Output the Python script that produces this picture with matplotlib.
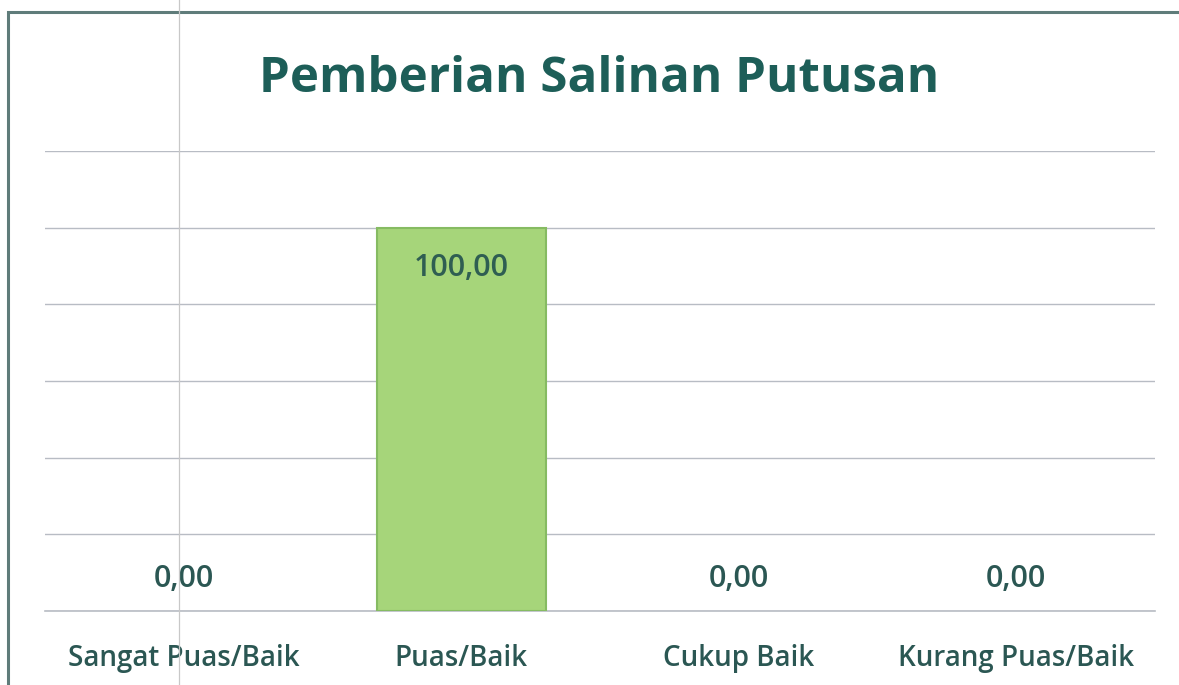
import matplotlib.pyplot as plt
from matplotlib.patches import Rectangle
from matplotlib.lines import Line2D

title = 'Pemberian Salinan Putusan'
categories = ['Sangat Puas/Baik', 'Puas/Baik', 'Cukup Baik', 'Kurang Puas/Baik']
values = [0.00, 100.00, 0.00, 0.00]
value_labels = ['0,00', '100,00', '0,00', '0,00']

TEAL = '#1d5e58'
LABEL = '#2b5753'
FONT = ['Open Sans', 'DejaVu Sans']


def main():
    plt.rcParams['font.family'] = FONT
    fig = plt.figure(figsize=(11.79, 6.85), dpi=100)
    fig.patch.set_facecolor('white')

    # chart frame from the scan
    fig.add_artist(Rectangle((8 / 1179, -0.01), 1.2, 1 - 12 / 685 + 0.01,
                             transform=fig.transFigure, fill=False,
                             edgecolor='#5f7c7a', linewidth=2.2))
    # fold line in the scan
    fig.add_artist(Line2D([179 / 1179, 179 / 1179], [0, 1], transform=fig.transFigure,
                          color='#c8c8c8', linewidth=0.9, zorder=10))

    ax = fig.add_axes([45 / 1179, 1 - 611 / 685, (1155 - 45) / 1179, (611 - 151) / 685])
    x = range(len(categories))
    widths = [1.5 if v > 0 else 0 for v in values]
    ax.bar(x, values, width=0.61, color='#a6d57a', edgecolor='#86bb62',
           linewidth=widths, zorder=3)
    ax.set_xlim(-0.5, len(categories) - 0.5)
    ax.set_ylim(0, 120)
    ax.set_yticks(range(0, 121, 20))
    ax.yaxis.grid(True, color='#b8bcc4', linewidth=1.0, zorder=0)
    ax.axhline(0, color='#b8bcc4', linewidth=1.2, zorder=2, clip_on=False)
    ax.tick_params(axis='y', left=False, labelleft=False)
    ax.tick_params(axis='x', length=0, pad=24)
    ax.set_xticks(list(x))
    ax.set_xticklabels(categories, fontsize=20, color=LABEL, fontweight='semibold')
    for s in ax.spines.values():
        s.set_visible(False)

    for i, (v, lab) in enumerate(zip(values, value_labels)):
        if v > 0:
            ax.annotate(lab, (i, v), xytext=(0, -29), textcoords='offset points',
                        ha='center', va='center', fontsize=22, color='#2f5e52',
                        fontweight='semibold', zorder=4)
        else:
            ax.annotate(lab, (i, v), xytext=(0, 23), textcoords='offset points',
                        ha='center', va='center', fontsize=22, color=LABEL,
                        fontweight='semibold', zorder=4)

    fig.text(599 / 1179, 1 - 80 / 685, title, ha='center', va='center',
             fontsize=35.5, fontweight='bold', color=TEAL)

    fig.savefig('out.png', dpi=100)


if __name__ == '__main__':
    main()
